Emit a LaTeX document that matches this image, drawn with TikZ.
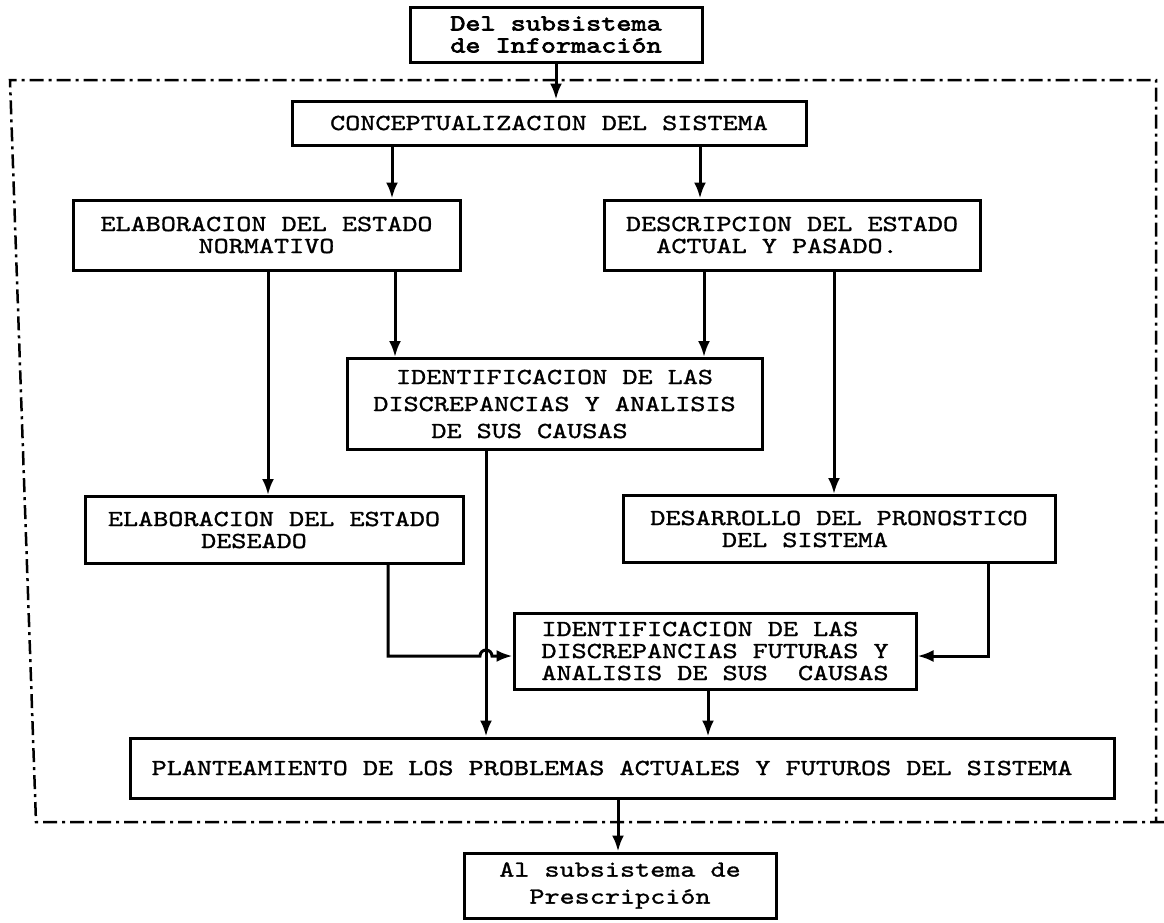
\documentclass[tikz,border=0pt]{standalone}
\usepackage{fontspec}
\setmainfont{lmmono10-regular.otf}[FakeStretch=1.25, FakeBold=1.2]
\newfontfamily\topfont{lmmono10-regular.otf}[FakeStretch=1.25, FakeBold=3]
\usetikzlibrary{arrows.meta,calc}
\begin{document}
\begin{tikzpicture}[x=1pt,y=-1pt,
  box/.style={draw, line width=3pt, inner sep=0pt, align=center, font=\fontsize{23}{22}\selectfont},
  loose/.style={font=\fontsize{23}{27}\selectfont},
  arr/.style={line width=3pt, -{Latex[length=16pt,width=12pt]}},
  frameline/.style={line width=2.5pt, dash pattern=on 14pt off 5pt on 3pt off 5pt}]
\useasboundingbox (0,0) rectangle (1164,922);

% frame
\draw[frameline] (1164,822) -- (36,822) -- (10,80) -- (1156,80) -- (1156,822);

% nodes
\node[box, minimum width=292pt, minimum height=55pt, font=\topfont\fontsize{23}{22}\selectfont] (top) at (556,34.5) {Del subsistema\\de Información};
\node[box, minimum width=514pt, minimum height=44pt] (concept) at (549,123) {CONCEPTUALIZACION DEL SISTEMA};
\node[box, minimum width=387pt, minimum height=70pt] (norm) at (266.5,235) {ELABORACION DEL ESTADO\\NORMATIVO};
\node[box, minimum width=376pt, minimum height=70pt] (desc) at (792,235) {DESCRIPCION DEL ESTADO\\ACTUAL Y PASADO.\hspace*{30pt}};
\node[box, loose, minimum width=415pt, minimum height=91pt] (ident) at (554.5,404) {IDENTIFICACION DE LAS\\DISCREPANCIAS Y ANALISIS\\DE SUS CAUSAS\hspace*{50pt}};
\node[box, minimum width=378pt, minimum height=67pt] (deseado) at (274,530) {ELABORACION DEL ESTADO\\DESEADO\hspace*{40pt}};
\node[box, minimum width=432pt, minimum height=67pt] (desarrollo) at (839,529) {DESARROLLO DEL PRONOSTICO\\DEL SISTEMA\hspace*{68pt}};
\node[box, align=left, minimum width=402pt, minimum height=76pt, font=\fontsize{23}{22}\selectfont] (identf) at (715,651) {IDENTIFICACION DE LAS\\DISCREPANCIAS FUTURAS Y\\ANALISIS DE SUS\ \ CAUSAS};
\node[box, minimum width=984pt, minimum height=60pt] (plant) at (622,768) {PLANTEAMIENTO DE LOS PROBLEMAS ACTUALES Y FUTUROS DEL SISTEMA\hspace*{20pt}};
\node[box, loose, minimum width=312pt, minimum height=65pt] (bottom) at (620,885.5) {Al subsistema de\\Prescripción};

% helper coordinates
\coordinate (xA) at (392,0);
\coordinate (xB) at (700,0);
\coordinate (xC) at (268,0);
\coordinate (xD) at (395,0);
\coordinate (xE) at (704,0);
\coordinate (xF) at (834,0);
\coordinate (xG) at (486,0);
\coordinate (xH) at (388,0);
\coordinate (xI) at (988,0);
\coordinate (xK) at (708,0);
\coordinate (xL) at (618,0);
\coordinate (yJ) at (0,656);

% connectors
\draw[arr] (top.south) -- (top.south |- concept.north);
\draw[arr] (concept.south -| xA) -- (norm.north -| xA);
\draw[arr] (concept.south -| xB) -- (desc.north -| xB);
\draw[arr] (norm.south -| xC) -- (deseado.north -| xC);
\draw[arr] (norm.south -| xD) -- (ident.north -| xD);
\draw[arr] (desc.south -| xE) -- (ident.north -| xE);
\draw[arr] (desc.south -| xF) -- (desarrollo.north -| xF);
\draw[arr] (ident.south -| xG) -- (plant.north -| xG);
\draw[arr] (deseado.south -| xH) -- (xH |- yJ) -- ($(xG |- yJ)+(-6,0)$) arc (180:360:6) -- (identf.west |- yJ);
\draw[arr] (desarrollo.south -| xI) -- (xI |- yJ) -- (identf.east |- yJ);
\draw[arr] (identf.south -| xK) -- (plant.north -| xK);
\draw[arr] (plant.south -| xL) -- (bottom.north -| xL);
\end{tikzpicture}
\end{document}
